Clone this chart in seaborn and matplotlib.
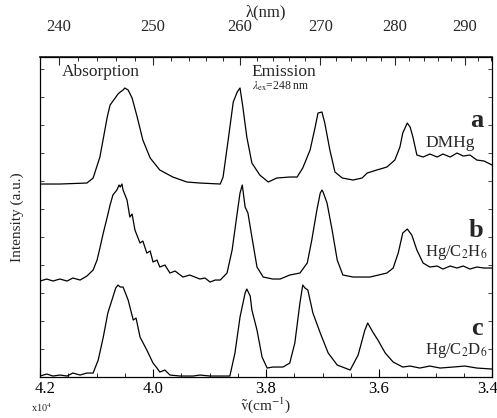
import numpy as np
import pandas as pd
import seaborn as sns
import matplotlib.pyplot as plt
import matplotlib.transforms as mtransforms
from matplotlib.ticker import MultipleLocator, FixedLocator, NullFormatter

sns.set_theme(style="ticks")
plt.rcParams['font.family'] = ['Liberation Serif', 'DejaVu Serif']
plt.rcParams['mathtext.fontset'] = 'stix'

# wavenumber (x10^4 cm^-1) and intensity (a.u., above own baseline)
wn_a = [4.200, 4.165, 4.117, 4.106, 4.094, 4.081, 4.076, 4.067, 4.062, 4.058, 4.053, 4.050,
        4.044, 4.037, 4.028, 4.018, 4.005, 3.988, 3.965, 3.940, 3.917, 3.881, 3.876, 3.867,
        3.858, 3.851, 3.846, 3.841, 3.834, 3.825, 3.811, 3.796, 3.781, 3.758, 3.745, 3.735,
        3.722, 3.713, 3.708, 3.701, 3.696, 3.687, 3.678, 3.665, 3.646, 3.630, 3.621, 3.604,
        3.586, 3.572, 3.563, 3.558, 3.550, 3.545, 3.540, 3.533, 3.522, 3.510, 3.497, 3.487,
        3.474, 3.462, 3.451, 3.439, 3.427, 3.414, 3.400]
int_a = [0, 0, 1, 6, 27, 67, 79, 86, 90, 92, 94, 96,
         94, 86, 67, 44, 26, 14, 7, 2, 1, 0, 7, 44,
         82, 92, 96, 77, 47, 21, 9, 2, 6, 7, 7, 16,
         34, 57, 71, 72, 61, 34, 12, 6, 4, 6, 11, 14,
         17, 24, 37, 51, 61, 57, 47, 29, 27, 30, 27, 30,
         27, 31, 28, 29, 24, 23, 19]

wn_b = [4.200, 4.188, 4.177, 4.165, 4.152, 4.142, 4.129, 4.117, 4.106, 4.099, 4.094, 4.088,
        4.081, 4.076, 4.071, 4.064, 4.060, 4.058, 4.055, 4.053, 4.046, 4.041, 4.037, 4.032,
        4.023, 4.018, 4.011, 4.005, 4.000, 3.993, 3.988, 3.979, 3.970, 3.961, 3.947, 3.935,
        3.917, 3.908, 3.899, 3.890, 3.881, 3.869, 3.860, 3.851, 3.846, 3.842, 3.837, 3.832,
        3.825, 3.816, 3.805, 3.788, 3.775, 3.758, 3.740, 3.727, 3.719, 3.710, 3.704, 3.701,
        3.699, 3.692, 3.683, 3.674, 3.664, 3.646, 3.616, 3.586, 3.575, 3.566, 3.558, 3.550,
        3.542, 3.533, 3.522, 3.510, 3.497, 3.487, 3.474, 3.462, 3.451, 3.439, 3.427, 3.414,
        3.400]
int_b = [-1, 1, -1, 1, -1, 2, 0, 4, 10, 20, 32, 47,
         63, 75, 85, 90, 95, 93, 96, 90, 80, 63, 66, 50,
         37, 39, 27, 29, 18, 20, 13, 15, 7, 9, 3, 5,
         1, 2, -2, 0, 0, 7, 30, 67, 87, 95, 73, 67,
         43, 13, 3, 1, 1, 5, 7, 17, 40, 70, 87, 90,
         88, 77, 50, 20, 5, 3, 3, 7, 12, 27, 47, 51,
         45, 30, 17, 13, 14, 11, 14, 12, 14, 11, 13, 12,
         12]

wn_c = [4.200, 4.188, 4.177, 4.165, 4.152, 4.142, 4.129, 4.117, 4.106, 4.097, 4.088, 4.080,
        4.071, 4.066, 4.062, 4.058, 4.053, 4.044, 4.035, 4.030, 4.023, 4.011, 4.000, 3.993,
        3.988, 3.979, 3.970, 3.952, 3.929, 3.917, 3.899, 3.864, 3.855, 3.846, 3.837, 3.834,
        3.828, 3.825, 3.816, 3.807, 3.798, 3.788, 3.770, 3.758, 3.749, 3.740, 3.735, 3.731,
        3.726, 3.717, 3.704, 3.690, 3.674, 3.651, 3.637, 3.625, 3.620, 3.611, 3.602, 3.589,
        3.575, 3.558, 3.545, 3.528, 3.510, 3.492, 3.469, 3.448, 3.427, 3.400]
int_c = [0, 2, 0, 1, 0, 3, 1, 3, 3, 16, 39, 63,
         79, 88, 91, 89, 89, 76, 56, 58, 39, 26, 13, 8,
         4, 6, 1, 0, 0, 1, 0, 0, 23, 59, 83, 87,
         80, 66, 46, 19, 8, 9, 9, 13, 33, 73, 91, 88,
         86, 63, 43, 23, 11, 6, 21, 46, 53, 44, 36, 23,
         14, 9, 10, 8, 10, 8, 9, 10, 8, 7]

wn_ticks = [4.2, 4.0, 3.8, 3.6, 3.4]
nm_ticks = [240, 250, 260, 270, 280, 290]
nm_minor = list(range(240, 295, 2))

offsets = {'a': 193, 'b': 97, 'c': 1}

fig = plt.figure(figsize=(4.97, 4.18), dpi=100)
ax = fig.add_axes([0.0805, 0.098, 0.9095, 0.7656])

for key, wn, inten in [('a', wn_a, int_a), ('b', wn_b, int_b), ('c', wn_c, int_c)]:
    df = pd.DataFrame({'wn': wn, 'I': np.array(inten) + offsets[key]})
    sns.lineplot(data=df, x='wn', y='I', ax=ax, color='black', lw=0.9,
                 estimator=None, sort=False)

ax.set_xlim(4.2, 3.4)
ax.set_ylim(0, 320)
ax.xaxis.set_major_locator(FixedLocator(wn_ticks))
ax.xaxis.set_minor_locator(MultipleLocator(0.05))
ax.xaxis.set_major_formatter(plt.FuncFormatter(lambda v, p: f"{v:.1f}"))
ax.yaxis.set_major_locator(MultipleLocator(28))
ax.yaxis.set_major_formatter(NullFormatter())
ax.tick_params(axis='x', which='major', direction='in', length=6, width=0.8,
               labelsize=12, pad=3, colors='black')
ax.tick_params(axis='x', which='minor', direction='in', length=3, width=0.7)
ax.tick_params(axis='y', which='major', direction='in', length=3, width=0.6,
               left=True, right=True)
for s in ax.spines.values():
    s.set_linewidth(0.9)
    s.set_color('black')

# edge labels sit slightly inward, as in the original
fig.canvas.draw()
ticks = ax.xaxis.get_major_ticks()
for tick, dx in [(ticks[0], 5), (ticks[-1], -4)]:
    lab = tick.label1
    lab.set_transform(lab.get_transform() +
                      mtransforms.ScaledTranslation(dx / 100, 0, fig.dpi_scale_trans))

ax.set_xlabel(r"$\tilde{\mathrm{v}}$(cm$^{-1}$)", fontsize=11, labelpad=-1)
ax.set_ylabel("Intensity (a.u.)", fontsize=11, labelpad=8)


def wn2nm(w):
    w = np.asarray(w, dtype=float)
    with np.errstate(divide='ignore', invalid='ignore'):
        return 1000.0 / w


sec = ax.secondary_xaxis('top', functions=(wn2nm, wn2nm))
sec.xaxis.set_major_locator(FixedLocator(nm_ticks))
sec.xaxis.set_minor_locator(FixedLocator(nm_minor))
sec.tick_params(axis='x', which='major', direction='in', length=6, width=0.8,
                labelsize=12, pad=16)
sec.tick_params(axis='x', which='minor', direction='in', length=3, width=0.7)
sec.set_xlabel("λ(nm)", fontsize=12, labelpad=2)

fig.text(0.062, 0.014, r"x10$^4$", fontsize=7.5, ha='left', va='baseline')

ax.text(4.161, 305, "Absorption", fontsize=12.5, va='center')
ax.text(3.825, 305, "Emission", fontsize=12.5, va='center')
ax.text(3.825, 290.5, r"$\lambda_{\rm ex}$=248 nm", fontsize=8.5, va='center')

ax.text(3.416, 257, "a", fontsize=19, fontweight='bold', ha='right', va='center')
ax.text(3.430, 234, "DMHg", fontsize=12.5, ha='right', va='center')
ax.text(3.416, 147, "b", fontsize=19, fontweight='bold', ha='right', va='center')
ax.text(3.407, 125, r"Hg/C$_2$H$_6$", fontsize=12, ha='right', va='center')
ax.text(3.416, 49, "c", fontsize=19, fontweight='bold', ha='right', va='center')
ax.text(3.407, 27, r"Hg/C$_2$D$_6$", fontsize=12, ha='right', va='center')

fig.savefig("out.png", dpi=100)
